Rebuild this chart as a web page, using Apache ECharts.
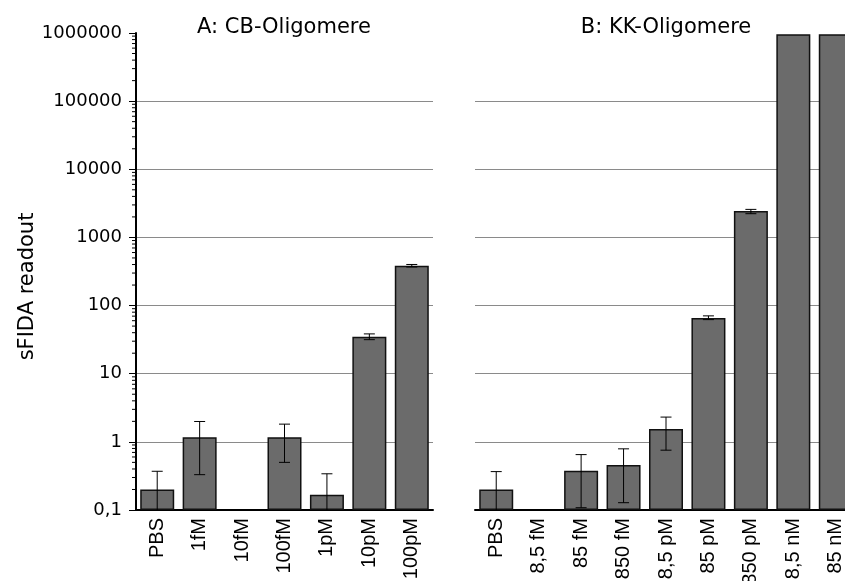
<!DOCTYPE html>
<html>
<head>
<meta charset="utf-8">
<script src="https://cdn.jsdelivr.net/npm/echarts@6/dist/echarts.min.js"></script>
<style>html,body{margin:0;padding:0;background:#fff}#c{width:845px;height:581px}</style>
</head>
<body>
<div id="c"></div>
<script>
// ---- data ----
const categoriesA = ['PBS', '1fM', '10fM', '100fM', '1pM', '10pM', '100pM'];
const valuesA     = [0.2, 1.17, null, 1.17, 0.168, 35, 384];
const errHighA    = [0.37, 1.99, null, 1.82, 0.34, 38.4, 401];
const errLowA     = [0.03, 0.33, null, 0.50, 0.03, 31.6, 368];

const categoriesB = ['PBS', '8,5 fM', '85 fM', '850 fM', '8,5 pM', '85 pM', '850 pM', '8,5 nM', '85 nM'];
const valuesB     = [0.2, null, 0.378, 0.459, 1.55, 65.9, 2440, 960000, 960000];
const errHighB    = [0.366, null, 0.65, 0.79, 2.31, 70.6, 2580, null, null];
const errLowB     = [0.03, null, 0.108, 0.128, 0.755, 62.2, 2230, null, null];

const titles = ['A: CB-Oligomere', 'B: KK-Oligomere'];
const yAxisName = 'sFIDA readout';
const yMin = 0.1, yMax = 1000000;
const minorMultipliers = [2, 3, 4, 5, 6, 7, 8, 9];
const decades = [0.1, 1, 10, 100, 1000, 10000, 100000];

// ---- build ----
function errRows(vals, lo, hi) {
  const rows = [];
  vals.forEach((v, i) => { if (v != null && hi[i] != null) rows.push([i, lo[i], hi[i]]); });
  return rows;
}
const minorTicks = [];
decades.forEach(d => minorMultipliers.forEach(m => minorTicks.push([0, +(d * m).toPrecision(3)])));

function fmt(v) {
  if (v < 1) return String(+v.toFixed(1)).replace('.', ',');
  return String(Math.round(v));
}

const barStyle = { color: '#6b6b6b', borderColor: '#111', borderWidth: 1.5 };

function errRender(params, api) {
  const x = api.coord([api.value(0), api.value(2)])[0];
  const cs = params.coordSys;
  const bottom = cs.y + cs.height;
  const yHi = api.coord([api.value(0), api.value(2)])[1];
  let yLo = api.coord([api.value(0), Math.max(api.value(1), yMin)])[1];
  if (yLo > bottom) yLo = bottom;
  const hw = 5.5;
  const children = [
    { type: 'line', shape: { x1: x, y1: yHi, x2: x, y2: yLo }, style: { stroke: '#000', lineWidth: 1 } },
    { type: 'line', shape: { x1: x - hw, y1: yHi, x2: x + hw, y2: yHi }, style: { stroke: '#000', lineWidth: 1 } }
  ];
  if (api.value(1) > yMin) {
    children.push({ type: 'line', shape: { x1: x - hw, y1: yLo, x2: x + hw, y2: yLo }, style: { stroke: '#000', lineWidth: 1 } });
  }
  return { type: 'group', children };
}

function minorRender(params, api) {
  const y = api.coord([0, api.value(1)])[1];
  const x0 = params.coordSys.x;
  return { type: 'line', shape: { x1: x0 - 4, y1: y, x2: x0, y2: y }, style: { stroke: '#000', lineWidth: 1 } };
}

const FONT = 'DejaVu Sans';
const commonY = {
  type: 'log', logBase: 10, min: yMin, max: yMax, interval: 1, startValue: yMin,
  splitLine: { show: true, showMaxLine: false, showMinLine: false, lineStyle: { color: '#8a8a8a', width: 1.2 } }
};
const commonX = {
  type: 'category',
  axisLine: { lineStyle: { color: '#000', width: 2 } },
  axisTick: { show: false },
  axisLabel: { rotate: 90, interval: 0, margin: 8, color: '#000', fontFamily: 'Liberation Sans', fontSize: 20 }
};

const option = {
  animation: false,
  backgroundColor: '#fff',
  title: [
    { text: titles[0], left: 279, top: 12, textAlign: 'center', textStyle: { fontFamily: FONT, fontSize: 21, fontWeight: 'normal', color: '#000' } },
    { text: titles[1], left: 661, top: 12, textAlign: 'center', textStyle: { fontFamily: FONT, fontSize: 21, fontWeight: 'normal', color: '#000' } }
  ],
  grid: [
    { left: 136, top: 33, width: 297, height: 477, outerBoundsMode: 'none', containLabel: false },
    { left: 475, top: 33, width: 382, height: 477, outerBoundsMode: 'none', containLabel: false }
  ],
  xAxis: [
    Object.assign({}, commonX, { gridIndex: 0, data: categoriesA }),
    Object.assign({}, commonX, { gridIndex: 1, data: categoriesB })
  ],
  yAxis: [
    Object.assign({}, commonY, {
      gridIndex: 0,
      name: yAxisName, nameLocation: 'middle', nameRotate: 90, nameGap: 98,
      nameTextStyle: { fontFamily: FONT, fontSize: 21, color: '#000', padding: [0, 30, 0, 0] },
      axisLine: { show: true, lineStyle: { color: '#000', width: 2 } },
      axisTick: { show: true, length: 7, lineStyle: { color: '#000', width: 1 } },
      axisLabel: { color: '#000', fontFamily: FONT, fontSize: 18, margin: 14, formatter: fmt }
    }),
    Object.assign({}, commonY, {
      gridIndex: 1,
      axisLine: { show: false }, axisTick: { show: false }, axisLabel: { show: false }
    })
  ],
  series: [
    { type: 'bar', xAxisIndex: 0, yAxisIndex: 0, data: valuesA.map(v => v == null ? '-' : v), barWidth: 34, itemStyle: barStyle },
    { type: 'bar', xAxisIndex: 1, yAxisIndex: 1, data: valuesB.map(v => v == null ? '-' : v), barWidth: 34, itemStyle: barStyle },
    { type: 'custom', xAxisIndex: 0, yAxisIndex: 0, data: errRows(valuesA, errLowA, errHighA), renderItem: errRender, z: 5, silent: true },
    { type: 'custom', xAxisIndex: 1, yAxisIndex: 1, data: errRows(valuesB, errLowB, errHighB), renderItem: errRender, z: 5, silent: true },
    { type: 'custom', xAxisIndex: 0, yAxisIndex: 0, data: minorTicks, renderItem: minorRender, clip: false, z: 5, silent: true }
  ]
};

const chart = echarts.init(document.getElementById('c'), null, { renderer: 'canvas' });
chart.setOption(option);
</script>
</body>
</html>
